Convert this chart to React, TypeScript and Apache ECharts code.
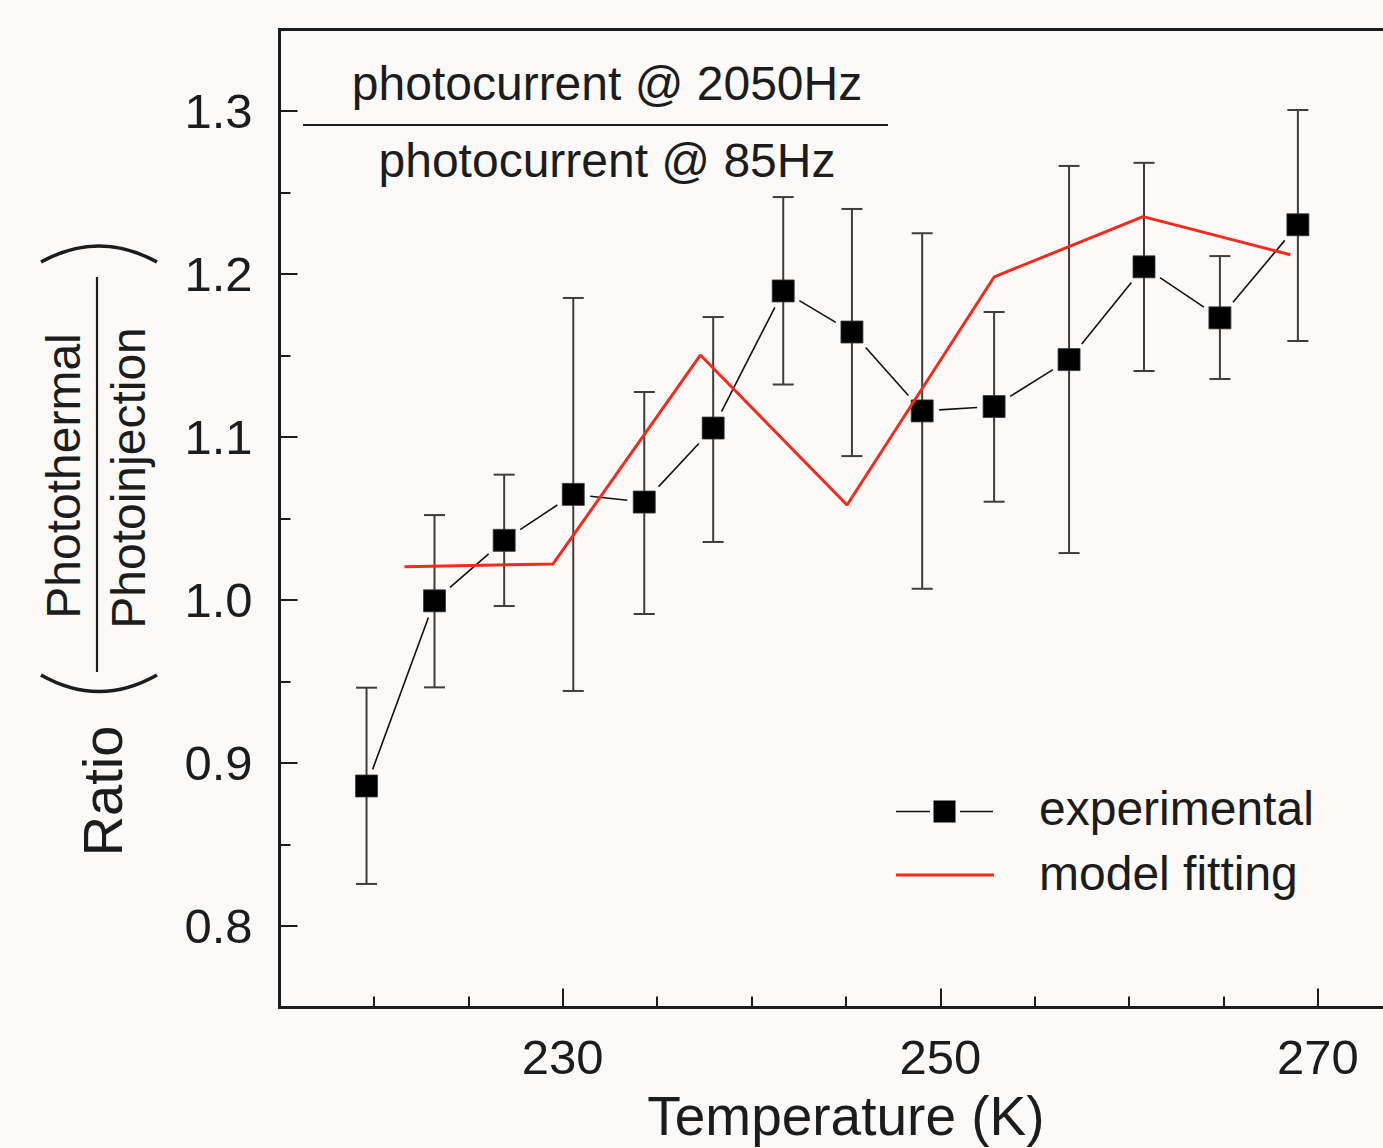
import React, { useEffect, useRef } from 'react';
import * as echarts from 'echarts';

// ---------- data ----------
const xMajorTicks = [230, 250, 270];
const yMajorTicks = [0.8, 0.9, 1.0, 1.1, 1.2, 1.3];

const expTemperature = [219.61, 223.21, 226.9, 230.56, 234.32, 237.97, 241.68, 245.32, 249.04, 252.85, 256.82, 260.79, 264.81, 268.94];
const expRatio = [0.8859, 0.9995, 1.0366, 1.0648, 1.0601, 1.1055, 1.1896, 1.1644, 1.116, 1.1187, 1.1475, 1.2044, 1.1731, 1.2302];
const expErrLow = [0.8258, 0.9464, 0.9963, 0.9442, 0.9914, 1.0356, 1.1322, 1.0883, 1.0069, 1.0603, 1.0288, 1.1405, 1.1356, 1.1589];
const expErrHigh = [0.9462, 1.0521, 1.0769, 1.1853, 1.1276, 1.1736, 1.2472, 1.2399, 1.225, 1.1767, 1.2663, 1.2682, 1.211, 1.3006];

const modelTemperature = [221.62, 229.49, 237.29, 245.06, 252.86, 260.74, 268.54];
const modelRatio = [1.0204, 1.0221, 1.1503, 1.0583, 1.1983, 1.2352, 1.2118];

const seriesNames = ['experimental', 'model fitting'];
const titleNumerator = 'photocurrent @ 2050Hz';
const titleDenominator = 'photocurrent @ 85Hz';
const yLabelWord = 'Ratio';
const yLabelNumerator = 'Photothermal';
const yLabelDenominator = 'Photoinjection';
const xLabel = 'Temperature (K)';

// ---------- style ----------
const FONT = '"Liberation Sans", Arial, Helvetica, sans-serif';
const INK = '#1c1c1c';
const BG = '#fbfaf8';
const RED = '#f42a1c';

export default function App() {
  const ref = useRef<HTMLDivElement>(null);

  useEffect(() => {
    if (!ref.current) return;
    const chart = echarts.init(ref.current, undefined, { renderer: 'svg' });

    const errData = expTemperature.map((t, i) => [t, expErrLow[i], expErrHigh[i]]);
    const segData = expTemperature.slice(0, -1).map((t, i) => [t, expRatio[i], expTemperature[i + 1], expRatio[i + 1]]);
    const expData = expTemperature.map((t, i) => [t, expRatio[i]]);
    const modelData = modelTemperature.map((t, i) => [t, modelRatio[i]]);

    const axisLineStyle = { color: INK, width: 3 };
    const tickLineStyle = { color: INK, width: 2 };

    const textStyle = (size: number) => ({ fontSize: size, fontFamily: FONT, fill: INK, align: 'center', verticalAlign: 'middle' });

    const option: any = {
      animation: false,
      backgroundColor: BG,
      grid: {
        left: 279.5,
        top: 29.5,
        width: 1132.8,
        height: 978,
        show: true,
        borderColor: INK,
        borderWidth: 3,
        backgroundColor: 'transparent',
        containLabel: false,
        outerBoundsMode: 'none',
      },
      xAxis: [
        {
          type: 'value',
          min: 215,
          max: 275,
          position: 'bottom',
          name: xLabel,
          nameLocation: 'middle',
          nameGap: 81,
          nameTextStyle: { fontSize: 55, fontFamily: FONT, color: INK },
          axisLine: { show: true, onZero: false, lineStyle: axisLineStyle },
          axisTick: { show: true, inside: true, length: 19, lineStyle: tickLineStyle, customValues: xMajorTicks },
          axisLabel: { show: true, customValues: xMajorTicks, fontSize: 49, fontFamily: FONT, color: INK, margin: 25 },
          splitLine: { show: false },
        },
        {
          type: 'value',
          min: 215,
          max: 275,
          interval: 5,
          position: 'bottom',
          axisLine: { show: false, onZero: false },
          axisTick: { show: true, inside: true, length: 11, lineStyle: tickLineStyle },
          axisLabel: { show: false },
          splitLine: { show: false },
        },
      ],
      yAxis: [
        {
          type: 'value',
          min: 0.75,
          max: 1.35,
          position: 'left',
          axisLine: { show: true, onZero: false, lineStyle: axisLineStyle },
          axisTick: { show: true, inside: true, length: 18, lineStyle: tickLineStyle, customValues: yMajorTicks },
          axisLabel: {
            show: true,
            customValues: yMajorTicks,
            fontSize: 49,
            fontFamily: FONT,
            color: INK,
            margin: 27,
            formatter: (v: number) => v.toFixed(1),
          },
          splitLine: { show: false },
        },
        {
          type: 'value',
          min: 0.75,
          max: 1.35,
          interval: 0.05,
          position: 'left',
          axisLine: { show: false, onZero: false },
          axisTick: { show: true, inside: true, length: 11, lineStyle: tickLineStyle },
          axisLabel: { show: false },
          splitLine: { show: false },
        },
      ],
      series: [
        {
          type: 'custom',
          name: 'error bars',
          xAxisIndex: 0,
          yAxisIndex: 0,
          data: errData,
          encode: { x: 0, y: [1, 2] },
          z: 2,
          renderItem: (params: any, api: any) => {
            const x = api.value(0);
            const pLo = api.coord([x, api.value(1)]);
            const pHi = api.coord([x, api.value(2)]);
            const cap = 10.5;
            const style = { stroke: '#433b3b', lineWidth: 2 };
            return {
              type: 'group',
              children: [
                { type: 'line', shape: { x1: pLo[0], y1: pLo[1], x2: pHi[0], y2: pHi[1] }, style },
                { type: 'line', shape: { x1: pLo[0] - cap, y1: pLo[1], x2: pLo[0] + cap, y2: pLo[1] }, style },
                { type: 'line', shape: { x1: pHi[0] - cap, y1: pHi[1], x2: pHi[0] + cap, y2: pHi[1] }, style },
              ],
            };
          },
        },
        {
          type: 'custom',
          name: 'connectors',
          xAxisIndex: 0,
          yAxisIndex: 0,
          data: segData,
          encode: { x: [0, 2], y: [1, 3] },
          z: 2,
          renderItem: (params: any, api: any) => {
            const p1 = api.coord([api.value(0), api.value(1)]);
            const p2 = api.coord([api.value(2), api.value(3)]);
            const dx = p2[0] - p1[0];
            const dy = p2[1] - p1[1];
            const len = Math.hypot(dx, dy);
            const ux = dx / len;
            const uy = dy / len;
            const edge = 11 / Math.max(Math.abs(ux), Math.abs(uy));
            const s = edge + 6;
            if (len <= 2 * s) return null;
            return {
              type: 'line',
              shape: { x1: p1[0] + ux * s, y1: p1[1] + uy * s, x2: p2[0] - ux * s, y2: p2[1] - uy * s },
              style: { stroke: '#111', lineWidth: 1.6 },
            };
          },
        },
        {
          type: 'scatter',
          name: seriesNames[0],
          xAxisIndex: 0,
          yAxisIndex: 0,
          data: expData,
          symbol: 'rect',
          symbolSize: 22,
          itemStyle: { color: '#000', opacity: 1, borderColor: '#3a3a3a', borderWidth: 0.8 },
          z: 3,
        },
        {
          type: 'line',
          name: seriesNames[1],
          xAxisIndex: 0,
          yAxisIndex: 0,
          data: modelData,
          symbol: 'none',
          lineStyle: { color: RED, width: 3 },
          itemStyle: { color: RED },
          z: 4,
        },
      ],
      graphic: [
        // fraction title
        { type: 'text', x: 607, y: 83, style: { text: titleNumerator, ...textStyle(48) } },
        { type: 'line', shape: { x1: 303, y1: 125, x2: 888, y2: 125 }, style: { stroke: INK, lineWidth: 2.2 } },
        { type: 'text', x: 607, y: 160, style: { text: titleDenominator, ...textStyle(48) } },
        // y-axis label
        { type: 'text', x: 102, y: 791, rotation: Math.PI / 2, style: { text: yLabelWord, ...textStyle(56) } },
        { type: 'text', x: 63, y: 476, rotation: Math.PI / 2, style: { text: yLabelNumerator, ...textStyle(48) } },
        { type: 'text', x: 128, y: 478, rotation: Math.PI / 2, style: { text: yLabelDenominator, ...textStyle(48) } },
        { type: 'line', shape: { x1: 97, y1: 277, x2: 97, y2: 672 }, style: { stroke: INK, lineWidth: 2.2 } },
        { type: 'bezierCurve', shape: { x1: 41, y1: 262, cpx1: 99, cpy1: 230, x2: 157, y2: 262 }, style: { stroke: INK, lineWidth: 3.5, fill: null } },
        { type: 'bezierCurve', shape: { x1: 41, y1: 675, cpx1: 99, cpy1: 708, x2: 157, y2: 675 }, style: { stroke: INK, lineWidth: 3.5, fill: null } },
        // legend
        { type: 'line', shape: { x1: 896, y1: 811.5, x2: 930, y2: 811.5 }, style: { stroke: '#111', lineWidth: 1.6 } },
        { type: 'rect', shape: { x: 933.5, y: 800.5, width: 22, height: 22 }, style: { fill: '#000' } },
        { type: 'line', shape: { x1: 960, y1: 811.5, x2: 993, y2: 811.5 }, style: { stroke: '#111', lineWidth: 1.6 } },
        { type: 'text', x: 1039, y: 808, style: { text: seriesNames[0], ...textStyle(48), align: 'left' } },
        { type: 'line', shape: { x1: 896, y1: 875, x2: 994, y2: 875 }, style: { stroke: RED, lineWidth: 3 } },
        { type: 'text', x: 1039, y: 873, style: { text: seriesNames[1], ...textStyle(48), align: 'left' } },
      ],
    };

    chart.setOption(option);
    return () => chart.dispose();
  }, []);

  return (
    <div
      ref={ref}
      style={{ position: 'fixed', left: 0, top: 0, width: 1383, height: 1148, background: BG }}
    />
  );
}
